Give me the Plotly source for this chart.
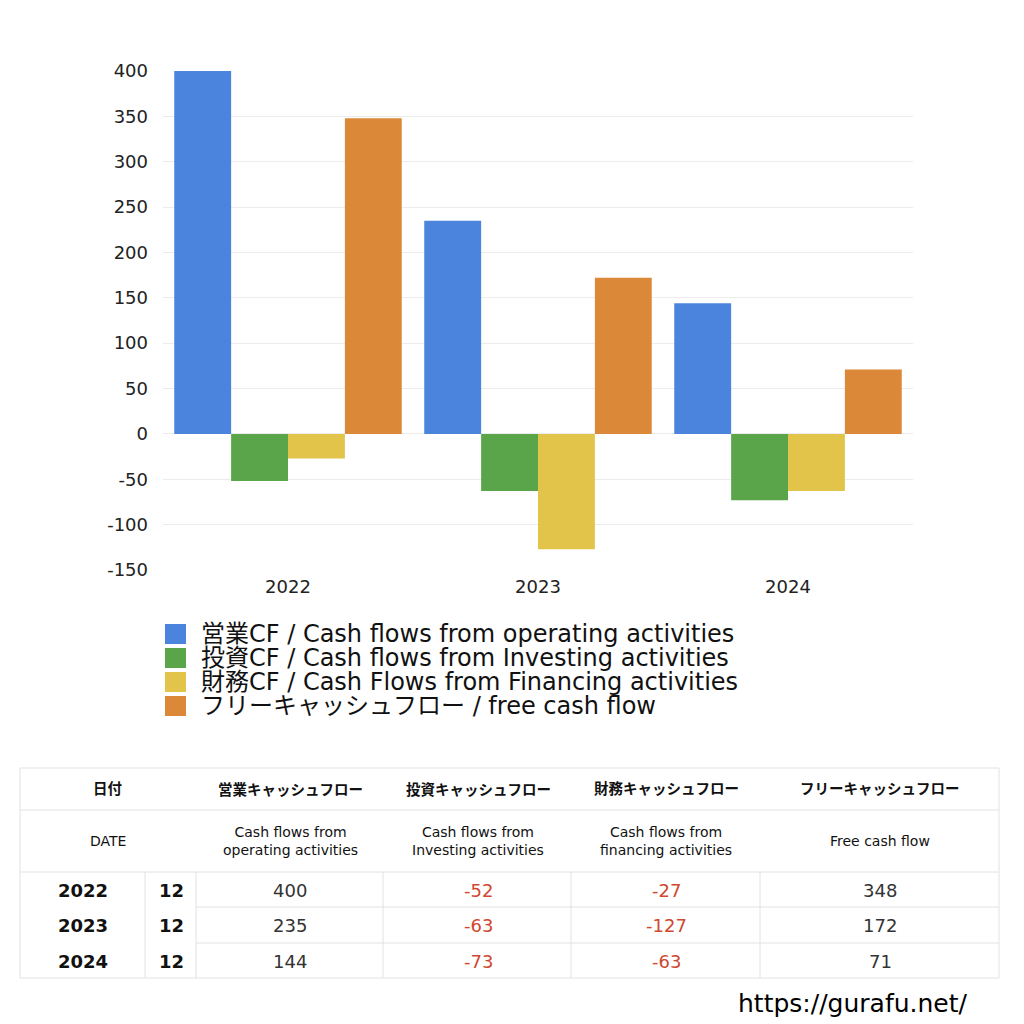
import plotly.graph_objects as go

years = ["2022", "2023", "2024"]
months = ["12", "12", "12"]
operating = [400, 235, 144]
investing = [-52, -63, -73]
financing = [-27, -127, -63]
free_cf = [348, 172, 71]

y_ticks = [-150, -100, -50, 0, 50, 100, 150, 200, 250, 300, 350, 400]
y_ticktext = ["-150", "-100", "-50", "0", "50", "100", "150", "200", "250", "300", "350", "400"]

series_names = [
    "営業CF / Cash flows from operating activities",
    "投資CF / Cash flows from Investing activities",
    "財務CF / Cash Flows from Financing activities",
    "フリーキャッシュフロー / free cash flow",
]
series_colors = ["#4a84dd", "#5aa54a", "#e1c449", "#dc8839"]

head_jp = ["日付", "営業キャッシュフロー", "投資キャッシュフロー", "財務キャッシュフロー", "フリーキャッシュフロー"]
head_en = ["DATE", "Cash flows from<br>operating activities", "Cash flows from<br>Investing activities",
           "Cash flows from<br>financing activities", "Free cash flow"]

W, H = 1024, 1024
ML, MR, MT, MB = 163, 111, 71, 454
FONT = "DejaVu Sans, Noto Sans CJK JP"


def px(x):
    return (x - ML) / (W - ML - MR)


def py(y):
    return 1 - (y - MT) / (H - MT - MB)


fig = go.Figure()
for name, vals, col in zip(series_names, [operating, investing, financing, free_cf], series_colors):
    fig.add_trace(go.Bar(x=years, y=vals, name=name, marker=dict(color=col, line=dict(width=0))))

fig.update_layout(
    width=W, height=H,
    margin=dict(l=ML, r=MR, t=MT, b=MB),
    paper_bgcolor="white", plot_bgcolor="white",
    barmode="group", bargap=0.09, bargroupgap=0,
    showlegend=False,
    font=dict(family=FONT, color="#222"),
    yaxis=dict(range=[-150, 400], tickvals=y_ticks, ticktext=y_ticktext, gridcolor="#ececec",
               zeroline=False, tickfont=dict(size=18, color="#222"), ticks="", ticklabelstandoff=14),
    xaxis=dict(tickfont=dict(size=18, color="#222"), showgrid=False, ticklabelstandoff=4),
)

shapes = []
ann = []
line_col = "#e2e2e2"


def hline(x0, x1, y):
    shapes.append(dict(type="line", xref="paper", yref="paper", x0=px(x0), x1=px(x1),
                       y0=py(y), y1=py(y), line=dict(color=line_col, width=1)))


def vline(x, y0, y1):
    shapes.append(dict(type="line", xref="paper", yref="paper", x0=px(x), x1=px(x),
                       y0=py(y0), y1=py(y1), line=dict(color=line_col, width=1)))


def text(x, y, t, size, color="#222", bold=False, anchor="center"):
    if bold:
        t = "<b>" + t + "</b>"
    ann.append(dict(xref="paper", yref="paper", x=px(x), y=py(y), text=t, showarrow=False,
                    xanchor=anchor, yanchor="middle", font=dict(size=size, color=color, family=FONT)))


# legend (drawn by hand so the rows sit as tight as in the original)
for i, (name, col) in enumerate(zip(series_names, series_colors)):
    cy = 634 + 24 * i
    shapes.append(dict(type="rect", xref="paper", yref="paper", x0=px(165), x1=px(186),
                       y0=py(cy - 10), y1=py(cy + 10), fillcolor=col, line=dict(width=0)))
    text(199, cy, name, 24, color="#111", anchor="left")

# table grid
hline(20, 999, 768)
hline(20, 999, 810)
hline(20, 999, 872)
hline(196, 999, 907)
hline(196, 999, 943)
hline(20, 999, 978)
vline(999, 768, 978)
vline(20, 768, 978)
for cx in [145, 196, 383, 571, 760]:
    vline(cx, 872, 978)

col_x = [108, 290, 478, 666, 880]
for cx, t in zip(col_x, head_jp):
    text(cx, 789, t, 14.5, color="#111", bold=True)
for cx, t in zip(col_x, head_en):
    text(cx, 841, t, 14, color="#111")

row_y = [890, 925, 961]
for i, ry in enumerate(row_y):
    text(83, ry, years[i], 18, color="#111", bold=True)
    text(171, ry, months[i], 18, color="#111", bold=True)
    for cx, vals in zip(col_x[1:], [operating, investing, financing, free_cf]):
        v = vals[i]
        text(cx, ry, str(v), 18, color="#d0482f" if v < 0 else "#333")

text(853, 1003, "https://gurafu.net/", 25, color="#000")

fig.update_layout(shapes=shapes, annotations=ann)

fig.write_html("out.html", config={"displayModeBar": False},
               post_script="document.body.style.margin='0';")
